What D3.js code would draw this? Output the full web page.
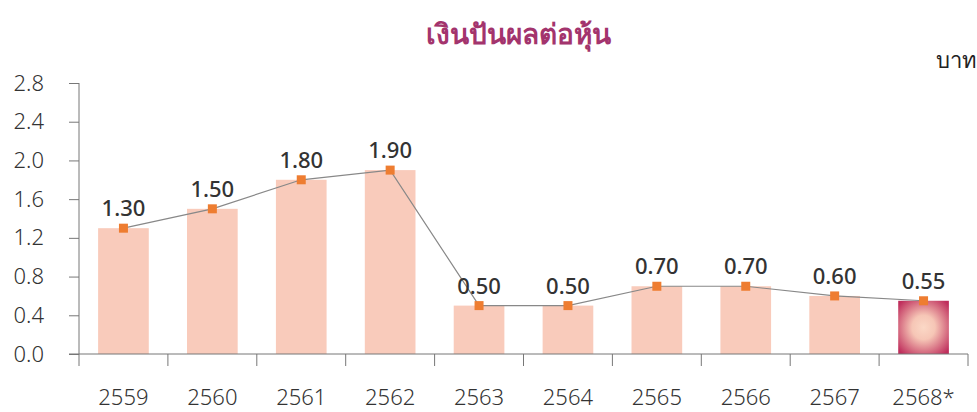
<!DOCTYPE html>
<html lang="th">
<head>
<meta charset="utf-8">
<script src="https://cdn.jsdelivr.net/npm/d3@7"></script>
<style>
  body { margin: 0; background: #fff; }
  text { font-family: "Noto Sans", "DejaVu Sans", sans-serif; }
</style>
</head>
<body>
<script>
var years = ["2559","2560","2561","2562","2563","2564","2565","2566","2567","2568*"];
var dividend = [1.30, 1.50, 1.80, 1.90, 0.50, 0.50, 0.70, 0.70, 0.60, 0.55];
var yTicks = [0, 0.4, 0.8, 1.2, 1.6, 2.0, 2.4, 2.8];

var w = 977, h = 412;
var plotL = 79, plotR = 968, plotT = 83, plotB = 354;

var svg = d3.select("body").append("svg")
    .attr("width", w).attr("height", h);

var defs = svg.append("defs");
var grad = defs.append("radialGradient").attr("id", "lastBar")
    .attr("cx", "50%").attr("cy", "50%").attr("r", "65%");
grad.append("stop").attr("offset", "0%").attr("stop-color", "#fbd8c6");
grad.append("stop").attr("offset", "35%").attr("stop-color", "#f6c6b6");
grad.append("stop").attr("offset", "100%").attr("stop-color", "#bf2e5c");

var x = d3.scaleBand().domain(years).range([plotL, plotR]).paddingInner(0.43).paddingOuter(0.215);
var xb = d3.scaleBand().domain(years).range([plotL, plotR]);
var y = d3.scaleLinear().domain([0, 2.8]).range([plotB, plotT]);

// title
svg.append("text").attr("x", 518).attr("y", 44)
    .attr("text-anchor", "middle").attr("font-size", 28).attr("font-weight", "bold")
    .attr("fill", "#a3346d").text("เงินปันผลต่อหุ้น");

svg.append("text").attr("x", 977).attr("y", 68)
    .attr("text-anchor", "end").attr("font-size", 22).attr("font-weight", 300)
    .attr("fill", "#222").text("บาท");

// bars
svg.selectAll("rect.bar").data(dividend).enter().append("rect")
    .attr("class", "bar")
    .attr("x", function(d, i) { return x(years[i]); })
    .attr("y", function(d) { return y(d); })
    .attr("width", x.bandwidth())
    .attr("height", function(d) { return y(0) - y(d); })
    .attr("fill", function(d, i) { return i === years.length - 1 ? "url(#lastBar)" : "#f9cbbb"; });

// y axis
var yAxis = svg.append("g").attr("transform", "translate(" + plotL + ",0)")
    .call(d3.axisLeft(y).tickValues(yTicks).tickFormat(d3.format(".1f")).tickSize(10).tickPadding(25));
yAxis.select(".domain").attr("stroke", "#777").attr("d", "M0," + plotT + "V" + plotB);
yAxis.selectAll(".tick line").attr("stroke", "#777");
yAxis.selectAll(".tick text").attr("font-size", 22).attr("fill", "#333")
    .attr("font-family", "'Noto Sans', sans-serif").attr("font-weight", 300);

// x axis
var xg = svg.append("g").attr("transform", "translate(0," + plotB + ")");
xg.append("line").attr("x1", plotL - 10).attr("x2", plotR).attr("stroke", "#777");
xg.selectAll("line.tk").data(years.concat(["end"])).enter().append("line")
    .attr("class", "tk")
    .attr("x1", function(d, i) { return i < years.length ? xb(d) : plotR; })
    .attr("x2", function(d, i) { return i < years.length ? xb(d) : plotR; })
    .attr("y1", 0).attr("y2", 12).attr("stroke", "#777");
xg.selectAll("text").data(years).enter().append("text")
    .attr("x", function(d) { return xb(d) + xb.bandwidth() / 2; })
    .attr("y", 51).attr("text-anchor", "middle").attr("font-size", 22)
    .attr("fill", "#333").attr("font-weight", 300).text(function(d) { return d; });

// line
var line = d3.line()
    .x(function(d, i) { return x(years[i]) + x.bandwidth() / 2; })
    .y(function(d) { return y(d); });
svg.append("path").datum(dividend).attr("d", line)
    .attr("fill", "none").attr("stroke", "#888").attr("stroke-width", 1.2);

// markers
svg.selectAll("rect.mk").data(dividend).enter().append("rect")
    .attr("class", "mk")
    .attr("x", function(d, i) { return x(years[i]) + x.bandwidth() / 2 - 4.5; })
    .attr("y", function(d) { return y(d) - 4.5; })
    .attr("width", 9).attr("height", 9).attr("fill", "#ee7d31");

// value labels
svg.selectAll("text.val").data(dividend).enter().append("text")
    .attr("class", "val")
    .attr("x", function(d, i) { return x(years[i]) + x.bandwidth() / 2; })
    .attr("y", function(d) { return y(d) - 12; })
    .attr("text-anchor", "middle").attr("font-size", 22).attr("font-weight", 500)
    .attr("fill", "#333").text(function(d) { return d3.format(".2f")(d); });
</script>
</body>
</html>
